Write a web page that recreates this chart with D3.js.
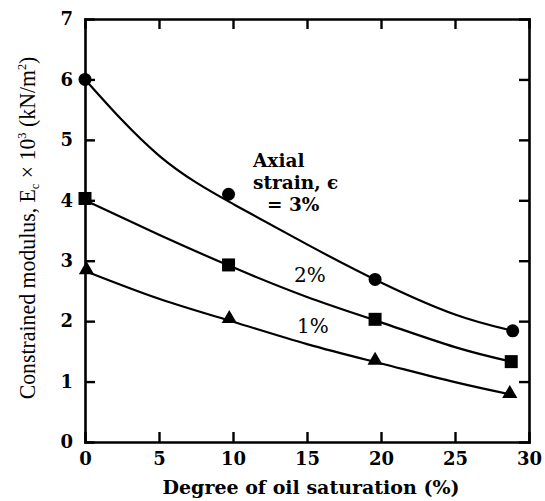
<!DOCTYPE html>
<html><head><meta charset="utf-8">
<script src="https://cdn.jsdelivr.net/npm/d3@7"></script>
<style>body{margin:0;background:#fff}svg{display:block}</style>
</head><body>
<script>
const xTicks = [0,5,10,15,20,25,30];
const yTicks = [0,1,2,3,4,5,6,7];
// measured points
const ptX3 = [0, 9.7, 19.6, 28.9];
const strain3 = [6.0, 4.1, 2.69, 1.84];
const ptX2 = [0, 9.7, 19.6, 28.8];
const strain2 = [4.03, 2.93, 2.03, 1.33];
const ptX1 = [0.1, 9.75, 19.6, 28.7];
const strain1 = [2.85, 2.04, 1.35, 0.8];
// fitted curves
const curveX3 = [0, 5, 10, 15, 20, 25, 28.9];
const curve3  = [6.0, 4.74, 3.94, 3.27, 2.64, 2.11, 1.84];
const curveX2 = [0, 5, 10, 15, 20, 25, 28.8];
const curve2  = [4.0, 3.43, 2.89, 2.40, 1.98, 1.57, 1.33];
const curveX1 = [0, 5, 10, 15, 20, 25, 28.7];
const curve1  = [2.83, 2.37, 1.99, 1.62, 1.30, 0.99, 0.79];

const W=545,H=501, L=85, R=529, T=19, B=442;
const svg=d3.select("body").append("svg").attr("width",W).attr("height",H);
const x=d3.scaleLinear().domain([0,30]).range([L,R]);
const y=d3.scaleLinear().domain([0,7]).range([B,T]);
const wide="'DejaVu Serif', serif";
const narrow="'Liberation Serif', 'Times New Roman', serif";

const tl=10;
const axB=svg.append("g").attr("transform",`translate(0,${B})`)
  .call(d3.axisBottom(x).tickValues(xTicks).tickSize(-tl).tickPadding(10).tickFormat(d3.format("d")));
const axL=svg.append("g").attr("transform",`translate(${L},0)`)
  .call(d3.axisLeft(y).tickValues(yTicks).tickSize(-tl).tickPadding(12).tickFormat(d3.format("d")));
const axT=svg.append("g").attr("transform",`translate(0,${T})`)
  .call(d3.axisTop(x).tickValues(xTicks).tickSize(-tl).tickFormat(""));
const axR=svg.append("g").attr("transform",`translate(${R},0)`)
  .call(d3.axisRight(y).tickValues(yTicks).tickSize(-tl).tickFormat(""));
[axB,axL,axT,axR].forEach(a=>{
  a.select(".domain").attr("stroke","#000").attr("stroke-width",2.6);
  a.selectAll(".tick line").attr("stroke","#000").attr("stroke-width",2.4);
  a.selectAll("text").attr("font-family",wide).attr("font-weight","bold").attr("font-size",18).attr("fill","#000");
});
axB.selectAll(".tick").filter(d=>d===0||d===30).select("line").remove();
axL.selectAll(".tick").filter(d=>d===0||d===7).select("line").remove();
axT.selectAll(".tick").filter(d=>d===0||d===30).remove();
axR.selectAll(".tick").filter(d=>d===0||d===7).remove();

const line=d3.line().curve(d3.curveNatural).x(d=>x(d[0])).y(d=>y(d[1]));
[[curveX3,curve3],[curveX2,curve2],[curveX1,curve1]].forEach(([xs,ys])=>{
  svg.append("path").attr("d",line(xs.map((v,i)=>[v,ys[i]])))
    .attr("fill","none").attr("stroke","#000").attr("stroke-width",2.2);
});

// markers
svg.append("g").selectAll("circle").data(ptX3.map((v,i)=>[v,strain3[i]])).join("circle")
  .attr("cx",d=>x(d[0])).attr("cy",d=>y(d[1])).attr("r",6.5).attr("fill","#000");
svg.append("g").selectAll("rect").data(ptX2.map((v,i)=>[v,strain2[i]])).join("rect")
  .attr("x",d=>x(d[0])-6.5).attr("y",d=>y(d[1])-6.5).attr("width",13).attr("height",13).attr("fill","#000");
const tri=d3.symbol().type(d3.symbolTriangle).size(100);
svg.append("g").selectAll("path").data(ptX1.map((v,i)=>[v,strain1[i]])).join("path")
  .attr("d",tri).attr("transform",d=>`translate(${x(d[0])},${y(d[1])})`).attr("fill","#000");

// annotations
const ann=svg.append("g").attr("font-family",wide).attr("font-weight","bold").attr("font-size",18.5).attr("fill","#000");
ann.append("text").attr("x",253).attr("y",167).text("Axial");
ann.append("text").attr("x",253).attr("y",189).text("strain, ϵ");
ann.append("text").attr("x",267).attr("y",211).text("= 3%");
const ann2=svg.append("g").attr("font-family",wide).attr("font-size",20).attr("fill","#000");
ann2.append("text").attr("x",294).attr("y",282).text("2%");
ann2.append("text").attr("x",297).attr("y",333).text("1%");

// axis titles
svg.append("text").attr("x",311).attr("y",494).attr("text-anchor","middle")
  .attr("font-family",wide).attr("font-weight","bold").attr("font-size",19).text("Degree of oil saturation (%)");
const yg=svg.append("g").attr("transform",`translate(35,228) rotate(-90)`);
const yt=yg.append("text").attr("text-anchor","middle").attr("font-family",narrow).attr("font-size",23);
yt.append("tspan").text("Constrained modulus, E");
yt.append("tspan").attr("font-size",13).attr("dy",4).text("c");
yt.append("tspan").attr("dy",-4).text(" × 10");
yt.append("tspan").attr("font-size",13).attr("dy",-9).text("3");
yt.append("tspan").attr("dy",9).text(" (kN/m");
yt.append("tspan").attr("font-size",13).attr("dy",-9).text("2");
yt.append("tspan").attr("dy",9).text(")");
const bw=yt.node().getBBox().width;
yg.attr("transform",`translate(35,228) rotate(-90) scale(${343/bw},1)`);
</script>
</body></html>
